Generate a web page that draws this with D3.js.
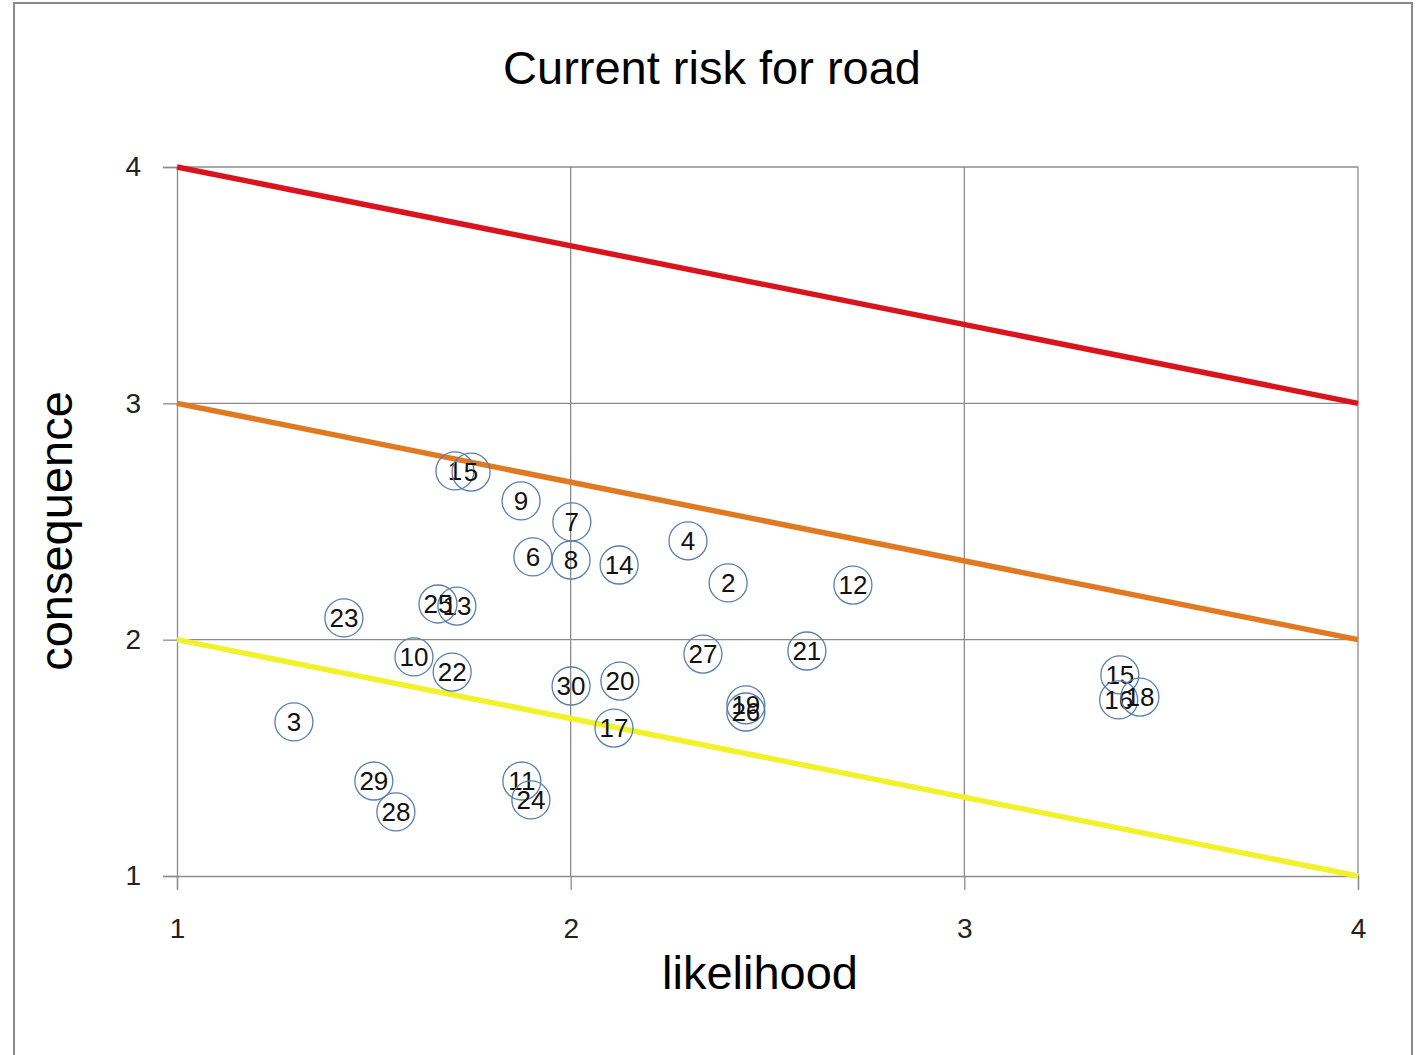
<!DOCTYPE html>
<html>
<head>
<meta charset="utf-8">
<script src="https://cdn.jsdelivr.net/npm/d3@7"></script>
<style>
  body { margin: 0; background: #fff; }
  svg { display: block; }
  .tick text { font-family: "Liberation Sans", Arial, sans-serif; fill: #222; }
</style>
</head>
<body>
<svg id="chart" width="1422" height="1055"></svg>
<script>
// risk items: id, likelihood, consequence
const ids = [1, 2, 3, 4, 5, 6, 7, 8, 9, 10, 11, 12, 13, 14, 15, 16, 17, 18, 19, 20, 21, 22, 23, 24, 25, 26, 27, 28, 29, 30];
const likelihood = [1.706, 2.40, 1.297, 2.298, 1.747, 1.904, 2.003, 2.001, 1.874, 1.602, 1.876, 2.717, 1.711, 2.123, 3.395, 3.392, 2.110, 3.446, 2.445, 2.125, 2.600, 1.699, 1.424, 1.899, 1.663, 2.445, 2.336, 1.556, 1.500, 2.001];
const consequence = [2.714, 2.240, 1.652, 2.418, 2.709, 2.350, 2.498, 2.337, 2.587, 1.927, 1.402, 2.231, 2.142, 2.316, 1.851, 1.745, 1.626, 1.757, 1.724, 1.825, 1.952, 1.863, 2.092, 1.322, 2.151, 1.694, 1.939, 1.271, 1.402, 1.804];

// risk boundary lines
const bandNames = ["high", "medium", "low"];
const bandStart = [4, 3, 2];
const bandEnd = [3, 2, 1];
const bandColors = ["#d9141c", "#e07a22", "#f2f22c"];

const xTicks = [1, 2, 3, 4];
const yTicks = [1, 2, 3, 4];

const svg = d3.select("#chart");
const width = 1422, height = 1055;
const margin = { left: 177, right: 64, top: 167, bottom: 179 };
const font = '"Liberation Sans", Arial, sans-serif';

// outer frame
svg.append("rect")
  .attr("x", 14).attr("y", 3)
  .attr("width", 1398).attr("height", 1060)
  .attr("fill", "none")
  .attr("stroke", "#8a8a8a")
  .attr("stroke-width", 2);

const x = d3.scaleLinear().domain([1, 4]).range([margin.left, width - margin.right]);
const y = d3.scaleLinear().domain([1, 4]).range([height - margin.bottom, margin.top]);

// grid
const grid = svg.append("g").attr("class", "grid");
grid.selectAll(".vgrid")
  .data(xTicks.filter((d) => d > 1))
  .join("line")
  .attr("x1", (d) => x(d)).attr("x2", (d) => x(d))
  .attr("y1", y(4)).attr("y2", y(1))
  .attr("stroke", "#8c8c8c").attr("stroke-width", 1.3);
grid.selectAll(".hgrid")
  .data(yTicks.filter((d) => d > 1))
  .join("line")
  .attr("x1", x(1)).attr("x2", x(4))
  .attr("y1", (d) => y(d)).attr("y2", (d) => y(d))
  .attr("stroke", "#8c8c8c").attr("stroke-width", 1.3);

// axes
const xAxis = d3.axisBottom(x).tickValues(xTicks).tickFormat(d3.format("d")).tickSize(14).tickPadding(28);
svg.append("g")
  .attr("transform", `translate(0,${y(1)})`)
  .call(xAxis)
  .call((g) => {
    g.select(".domain").attr("stroke", "#8c8c8c").attr("stroke-width", 1.3);
    g.selectAll(".tick line").attr("stroke", "#8c8c8c").attr("stroke-width", 1.3);
    g.selectAll(".tick text").attr("font-size", 28).attr("font-family", font);
  });

const yAxis = d3.axisLeft(y).tickValues(yTicks).tickFormat(d3.format("d")).tickSize(14).tickPadding(22);
svg.append("g")
  .attr("transform", `translate(${x(1)},0)`)
  .call(yAxis)
  .call((g) => {
    g.select(".domain").attr("stroke", "#8c8c8c").attr("stroke-width", 1.3);
    g.selectAll(".tick line").attr("stroke", "#8c8c8c").attr("stroke-width", 1.3);
    g.selectAll(".tick text").attr("font-size", 28).attr("font-family", font);
  });

// boundary lines
svg.append("g").selectAll("line")
  .data(bandNames)
  .join("line")
  .attr("x1", x(1)).attr("y1", (d, i) => y(bandStart[i]))
  .attr("x2", x(4)).attr("y2", (d, i) => y(bandEnd[i]))
  .attr("stroke", (d, i) => bandColors[i])
  .attr("stroke-width", 5.5);

// points
const points = ids.map((id, i) => ({ id, lx: likelihood[i], cy: consequence[i] }));
const pts = svg.append("g").selectAll("g")
  .data(points)
  .join("g")
  .attr("transform", (d) => `translate(${x(d.lx)},${y(d.cy)})`);
pts.append("circle")
  .attr("r", 19)
  .attr("fill", "none")
  .attr("stroke", "#5a7fae")
  .attr("stroke-width", 1.3);
pts.append("text")
  .attr("text-anchor", "middle")
  .attr("dy", "0.36em")
  .attr("font-size", 26)
  .attr("font-family", font)
  .attr("fill", "#111")
  .text((d) => d.id);

// titles
svg.append("text")
  .attr("x", 712).attr("y", 84)
  .attr("text-anchor", "middle")
  .attr("font-size", 47)
  .attr("font-family", font)
  .attr("fill", "#000")
  .text("Current risk for road");

svg.append("text")
  .attr("x", 760).attr("y", 989)
  .attr("text-anchor", "middle")
  .attr("font-size", 47)
  .attr("font-family", font)
  .attr("fill", "#000")
  .text("likelihood");

svg.append("text")
  .attr("transform", `translate(72,531) rotate(-90)`)
  .attr("text-anchor", "middle")
  .attr("font-size", 47)
  .attr("font-family", font)
  .attr("fill", "#000")
  .text("consequence");
</script>
</body>
</html>
